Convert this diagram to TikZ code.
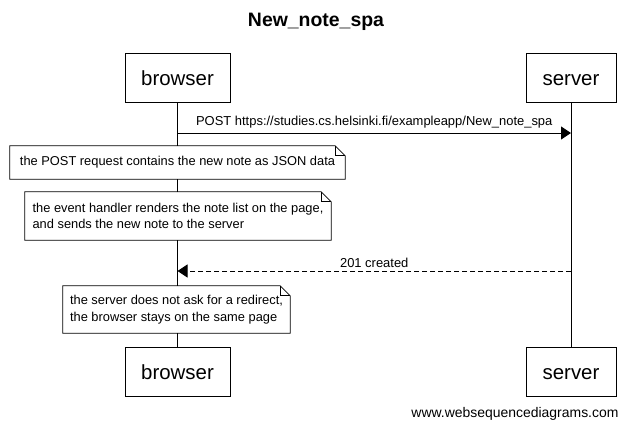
\documentclass[tikz,border=0pt]{standalone}
\usepackage{fontspec}
\setmainfont{Liberation Sans}
\usetikzlibrary{arrows.meta,calc}
\tikzset{
  actor/.style={draw, line width=0.9bp, fill=white, minimum height=49bp, inner sep=0pt, text height=15bp, text depth=0bp, font=\fontsize{20.5}{24}\selectfont},
  notebox/.style={fill=white, inner sep=0pt, align=left, font=\fontsize{12.9}{16.5}\selectfont},
  msg/.style={font=\fontsize{13}{15}\selectfont},
  lifeline/.style={line width=0.9bp},
  arr/.style={line width=0.9bp, -{Triangle[length=10bp,width=13bp]}},
}
\newcommand{\notefold}[1]{%
  \draw[line width=0.7bp] (#1.north west) -- ($(#1.north east)+(-10,0)$) -- ($(#1.north east)+(0,10)$) -- (#1.south east) -- (#1.south west) -- cycle;
  \draw[line width=0.7bp] ($(#1.north east)+(-10,0)$) -- ($(#1.north east)+(-10,10)$) -- ($(#1.north east)+(0,10)$);
}
\begin{document}
\begin{tikzpicture}[x=1bp,y=-1bp]
\useasboundingbox (0,0) rectangle (631,431);
\node[font=\fontsize{19.5}{21}\selectfont\bfseries] (title) at (316,22) {New\_note\_spa};
% actors
\node[actor, minimum width=105bp] (bt) at (177.5,77.5) {browser};
\node[actor, minimum width=90bp] (st) at (571,77.5) {server};
\node[actor, minimum width=105bp] (bb) at (177.5,371.5) {browser};
\node[actor, minimum width=90bp] (sb) at (571,371.5) {server};
\draw[lifeline] (bt.south) -- (bb.north);
\draw[lifeline] (st.south) -- (sb.north);
% messages
\coordinate (p1) at (bt.south |- 0,133);
\coordinate (p2) at (st.south |- 0,133);
\draw[arr] (p1) -- node[msg, above=1bp] (m1) {POST https://studies.cs.helsinki.fi/exampleapp/New\_note\_spa} (p2);
% notes
\node[notebox, minimum width=335bp, minimum height=33bp] (n1) at (177.5,162.5) {the POST request contains the new note as JSON data};
\notefold{n1}
\node[notebox, minimum width=306bp, minimum height=48bp] (n2) at (178,216) {the event handler renders the note list on the page,\\and sends the new note to the server};
\notefold{n2}
\coordinate (q1) at (st.south |- 0,271);
\coordinate (q2) at (bt.south |- 0,271);
\draw[arr, dashed, dash pattern=on 5bp off 3bp] (q1) -- node[msg, above=0bp] (m2) {201 created} (q2);
\node[notebox, minimum width=227bp, minimum height=47bp] (n3) at (176.5,309.5) {the server does not ask for a redirect,\\the browser stays on the same page};
\notefold{n3}
\node[anchor=east, font=\fontsize{14}{16}\selectfont] (foot) at (622,414) {www.websequencediagrams.com};
\end{tikzpicture}
\end{document}
